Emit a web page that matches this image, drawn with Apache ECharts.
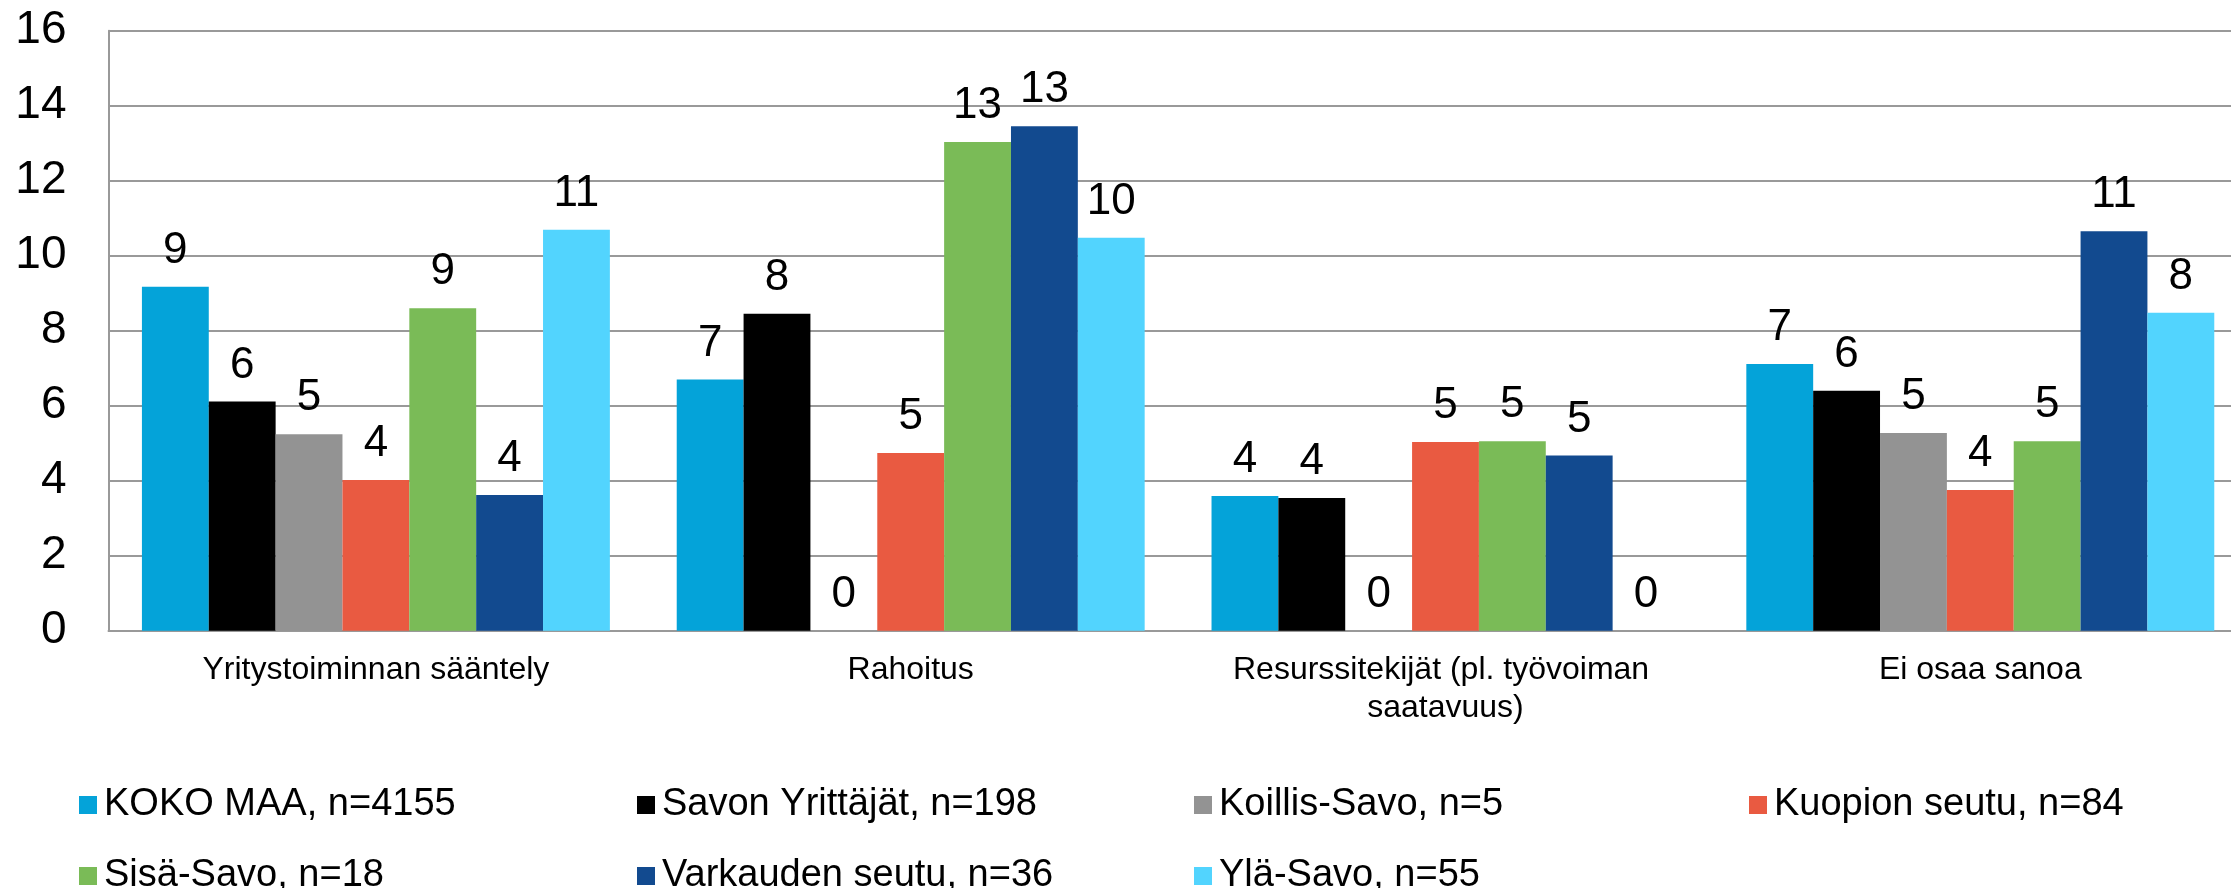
<!DOCTYPE html>
<html>
<head>
<meta charset="utf-8">
<script src="https://cdn.jsdelivr.net/npm/echarts@6/dist/echarts.min.js"></script>
<style>
html, body { margin: 0; padding: 0; overflow: hidden; background: #fff; }
#chart { width: 2248px; height: 888px; }
</style>
</head>
<body>
<div id="chart"></div>
<script>
// ---- data ----
const categories = [
  'Yritystoiminnan sääntely',
  'Rahoitus',
  'Resurssitekijät (pl. työvoiman saatavuus)',
  'Ei osaa sanoa'
];
const seriesNames = [
  'KOKO MAA, n=4155',
  'Savon Yrittäjät, n=198',
  'Koillis-Savo, n=5',
  'Kuopion seutu, n=84',
  'Sisä-Savo, n=18',
  'Varkauden seutu, n=36',
  'Ylä-Savo, n=55'
];
const kokoMaa        = [9.17, 6.70, 3.59, 7.11];
const savonYrittajat = [6.11, 8.45, 3.54, 6.40];
const koillisSavo    = [5.24, 0, 0, 5.27];
const kuopionSeutu   = [4.02, 4.74, 5.03, 3.75];
const sisaSavo       = [8.60, 13.03, 5.05, 5.05];
const varkaudenSeutu = [3.62, 13.45, 4.67, 10.65];
const ylaSavo        = [10.69, 10.48, 0, 8.48];
const yTicks = [0, 2, 4, 6, 8, 10, 12, 14, 16];

const seriesValues = [kokoMaa, savonYrittajat, koillisSavo, kuopionSeutu, sisaSavo, varkaudenSeutu, ylaSavo];
const colors = ['#04A3D9', '#000000', '#939393', '#E95A41', '#7ABB57', '#124A8F', '#52D4FE'];

// ---- layout ----
const FONT = '"Liberation Sans", Arial, sans-serif';
const legendPos = [
  [79, 785], [637, 785], [1194, 785], [1749, 785],
  [79, 856], [637, 856], [1194, 856]
];

const chart = echarts.init(document.getElementById('chart'), null, { renderer: 'canvas' });

const option = {
  animation: false,
  color: colors,
  grid: { left: 108.5, top: 30.7, width: 2139.2, height: 600, containLabel: false },
  legend: seriesNames.map((name, i) => ({
    data: [name],
    left: legendPos[i][0],
    top: legendPos[i][1],
    icon: 'rect',
    itemWidth: 18,
    itemHeight: 18,
    padding: 0,
    textStyle: { fontFamily: FONT, fontSize: 38, color: '#000', lineHeight: 40, padding: [0, 0, 0, 2] }
  })),
  xAxis: {
    type: 'category',
    data: categories,
    axisLine: { show: true, lineStyle: { color: '#999999', width: 2 } },
    axisTick: { show: false },
    axisLabel: {
      interval: 0,
      margin: 20,
      fontFamily: FONT,
      fontSize: 32,
      lineHeight: 38,
      color: '#000',
      width: 520,
      overflow: 'break'
    }
  },
  yAxis: {
    type: 'value',
    min: yTicks[0],
    max: yTicks[yTicks.length - 1],
    interval: yTicks[1] - yTicks[0],
    axisLine: { show: true, lineStyle: { color: '#999999', width: 2 } },
    axisTick: { show: false },
    splitLine: { show: true, lineStyle: { color: '#999999', width: 2 } },
    axisLabel: { margin: 42, fontFamily: FONT, fontSize: 46, color: '#000' }
  },
  series: seriesNames.map((name, i) => ({
    name: name,
    type: 'bar',
    data: seriesValues[i],
    barGap: '0%',
    barCategoryGap: '12.5%',
    itemStyle: { color: colors[i] },
    label: {
      show: true,
      position: 'top',
      distance: 14,
      fontFamily: FONT,
      fontSize: 44,
      color: '#000',
      formatter: p => String(Math.round(p.value))
    }
  }))
};
chart.setOption(option);
</script>
</body>
</html>
